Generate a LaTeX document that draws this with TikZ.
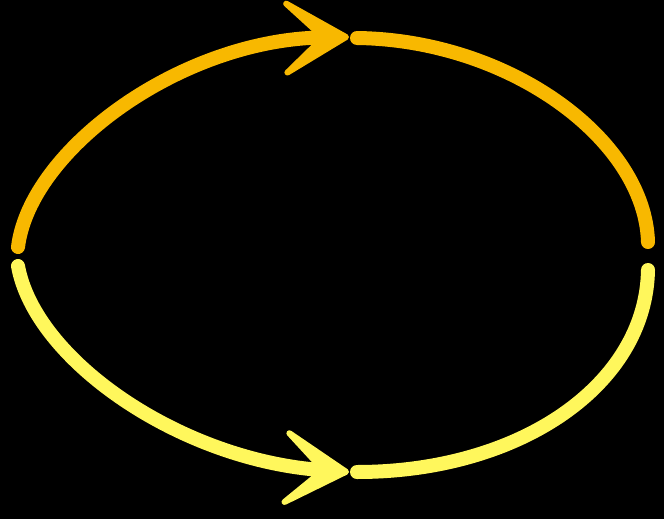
\documentclass[tikz,border=0pt]{standalone}
\usetikzlibrary{arrows.meta}
\definecolor{toporange}{HTML}{F8B800}
\definecolor{lowyellow}{HTML}{FFF75C}

\begin{document}
\begin{tikzpicture}[
    x=1pt,y=-1pt,
    arc/.style={line width=14pt,line cap=round},
    head/.style={-{Stealth[length=86pt,width=100pt,inset=53pt,line width=6pt,round]}},
]
\fill[black] (0,0) rectangle (664,519);
\useasboundingbox (0,0) rectangle (664,519);

\coordinate (tl)  at (18,247);
\coordinate (tm)  at (349,37);
\coordinate (tm2) at (357,38);
\coordinate (tr)  at (648,242);
\coordinate (bl)  at (18,266);
\coordinate (bm)  at (349,472);
\coordinate (bm2) at (357,472);
\coordinate (br)  at (648,270);

% upper half
\draw[arc,head,toporange] (tl) .. controls (30,150) and (180,40) .. (tm);
\draw[arc,toporange] (tm2) .. controls (510,40) and (645,140) .. (tr);
% lower half
\draw[arc,head,lowyellow] (bl) .. controls (35,360) and (180,460) .. (bm);
\draw[arc,lowyellow] (bm2) .. controls (520,472) and (646,385) .. (br);
\end{tikzpicture}
\end{document}
